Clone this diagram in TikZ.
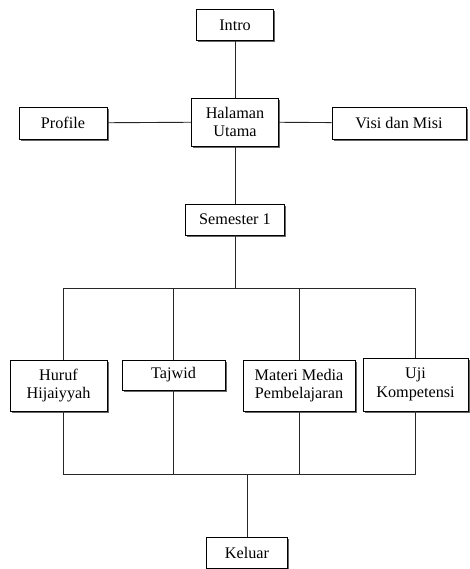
\documentclass[tikz,border=0pt]{standalone}
\usepackage{fontspec}
\setmainfont{Liberation Serif}
\usetikzlibrary{shadows}
\begin{document}
\begin{tikzpicture}[x=1pt,y=-1pt,
  box/.style={draw=black, line width=0.9pt, fill=white, align=center, inner sep=1pt,
    font=\fontsize{16.2}{18.5}\selectfont,
    drop shadow={shadow xshift=1.8pt, shadow yshift=-1.8pt, fill=black!60, opacity=1}},
  conn/.style={line width=0.9pt, draw=black!85}]
\useasboundingbox (0,0) rectangle (469,569);
\node[box, minimum width=77pt, minimum height=31pt] (intro) at (235,25) {Intro};
\node[box, minimum width=87pt, minimum height=48pt] (halaman) at (235,122) {Halaman\\Utama};
\node[box, minimum width=88pt, minimum height=32pt] (profile) at (63,123) {Profile};
\node[box, minimum width=134pt, minimum height=32pt] (visi) at (399,123) {Visi dan Misi};
\node[box, minimum width=99pt, minimum height=31pt] (semester) at (235,219.5) {Semester 1};
\node[box, minimum width=97pt, minimum height=51pt] (huruf) at (58.5,385.5) {Huruf\\Hijaiyyah};
\node[box, minimum width=103pt, minimum height=30pt] (tajwid) at (173.5,375) {Tajwid};
\node[box, minimum width=112pt, minimum height=51pt] (materi) at (299,385.5) {Materi Media\\Pembelajaran};
\node[box, minimum width=105pt, minimum height=53pt] (uji) at (415.5,384.5) {Uji\\Kompetensi};
\node[box, minimum width=81pt, minimum height=31pt] (keluar) at (247,552.5) {Keluar};
\coordinate (bar) at (0,288);
\coordinate (bartwo) at (0,474);
\draw[conn] (intro) -- (halaman);
\draw[conn] (profile) -- (halaman);
\draw[conn] (halaman) -- (visi);
\draw[conn] (halaman) -- (semester);
\draw[conn] (semester.south) -- (semester.south |- bar);
\draw[conn] ([xshift=4.5pt]huruf.north) |- (bar -| uji.north) -- (uji.north);
\draw[conn] (tajwid.north) -- (tajwid.north |- bar);
\draw[conn] (materi.north) -- (materi.north |- bar);
\draw[conn] ([xshift=4.5pt]huruf.south) |- (bartwo -| uji.south) -- (uji.south);
\draw[conn] (tajwid.south) -- (tajwid.south |- bartwo);
\draw[conn] (materi.south) -- (materi.south |- bartwo);
\draw[conn] (keluar.north) -- (keluar.north |- bartwo);
\end{tikzpicture}
\end{document}
